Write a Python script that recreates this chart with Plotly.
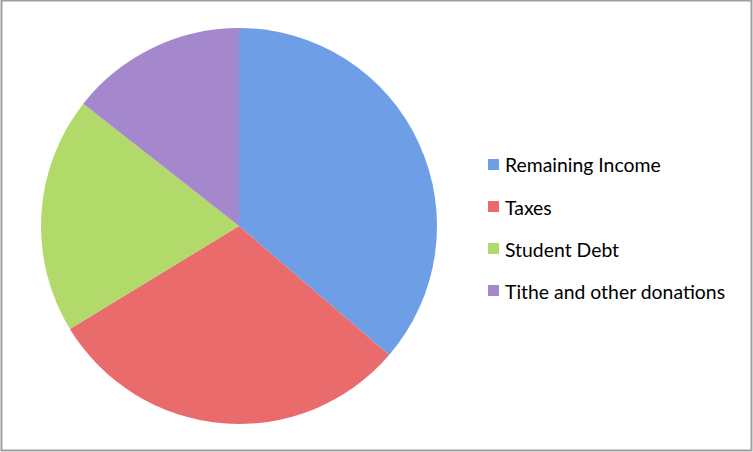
import plotly.graph_objects as go

labels = ["Remaining Income", "Taxes", "Student Debt", "Tithe and other donations"]
values = [36.3, 30.0, 19.3, 14.4]
colors = ["#6e9fe6", "#e96b6b", "#b2da6a", "#a487cc"]

W, H = 753, 452
fig = go.Figure()
fig.add_trace(go.Pie(
    labels=labels, values=values, sort=False, direction="clockwise", rotation=0,
    marker=dict(colors=colors, line=dict(width=0)),
    textinfo="none", hoverinfo="label+percent",
    domain=dict(x=[41 / W, 437 / W], y=[1 - 424 / H, 1 - 28 / H]),
    showlegend=False,
))

shapes = [dict(type="rect", xref="paper", yref="paper", x0=1.5 / W, x1=751.5 / W,
               y0=1 - 450.5 / H, y1=1 - 0.5 / H, line=dict(color="#a0a0a0", width=2))]
annotations = []
y0 = 165
gap = 42
for i, (lab, col) in enumerate(zip(labels, colors)):
    yc = y0 + i * gap
    shapes.append(dict(type="rect", xref="paper", yref="paper",
                       x0=488 / W, x1=499 / W, y0=1 - (yc + 5) / H, y1=1 - (yc - 6) / H,
                       fillcolor=col, line=dict(width=0)))
    annotations.append(dict(text=lab, xref="paper", yref="paper", x=503 / W, y=1 - yc / H,
                            xanchor="left", yanchor="middle", showarrow=False,
                            font=dict(family="Lato, Open Sans, sans-serif", size=19.4, color="#000000")))

fig.update_layout(
    width=W, height=H, margin=dict(l=0, r=0, t=0, b=0),
    paper_bgcolor="white", plot_bgcolor="white",
    shapes=shapes, annotations=annotations,
)
fig.write_html("out.html", config={"displayModeBar": False},
               post_script="document.body.style.margin='0';document.body.style.padding='0';document.body.style.overflow='hidden';")
